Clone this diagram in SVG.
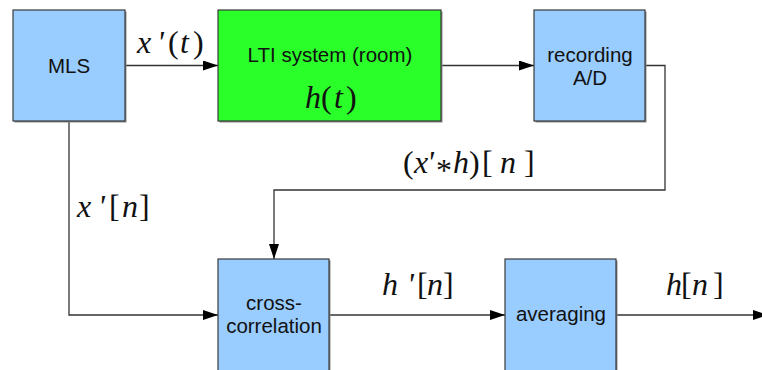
<svg xmlns="http://www.w3.org/2000/svg" width="762" height="370" viewBox="0 0 762 370">
  <defs>
    <marker id="arrow" markerUnits="userSpaceOnUse" markerWidth="16" markerHeight="11" refX="15" refY="5" orient="auto">
      <path d="M0,0 L15,5 L0,10 z" fill="#000"/>
    </marker>
  </defs>
  <style>
    .box { stroke: #3a3a3a; stroke-width: 1.2; }
    .shadow { fill: #8a8a8a; }
    .blue { fill: #99ccff; }
    .green { fill: #2aff2a; }
    .label { font-family: "Liberation Sans", Arial, sans-serif; font-size: 20.5px; fill: #111; text-anchor: middle; }
    .math { font-family: "Liberation Serif", "Times New Roman", serif; font-size: 32px; fill: #111; }
    .it { font-style: italic; }
    .wire { fill: none; stroke: #333; stroke-width: 1.3; }
  </style>
  <rect width="762" height="370" fill="#fff"/>

  <g id="connectors">
    <line class="wire" x1="125" y1="65.5" x2="218" y2="65.5" marker-end="url(#arrow)"/>
    <line class="wire" x1="442" y1="65.5" x2="534" y2="65.5" marker-end="url(#arrow)"/>
    <polyline class="wire" points="646,65.5 665,65.5 665,190 274,190 274,259" marker-end="url(#arrow)"/>
    <polyline class="wire" points="69,121 69,315 218,315" marker-end="url(#arrow)"/>
    <line class="wire" x1="330" y1="315" x2="505" y2="315" marker-end="url(#arrow)"/>
    <line class="wire" x1="617" y1="315" x2="768" y2="315" marker-end="url(#arrow)"/>
  </g>

  <g id="mls">
    <rect class="shadow" x="14.5" y="11.5" width="112" height="111"/>
    <rect class="box blue" x="13" y="10" width="112" height="111"/>
    <text class="label" x="69" y="73">MLS</text>
  </g>

  <g id="lti">
    <rect class="shadow" x="219.5" y="11.5" width="223" height="111"/>
    <rect class="box green" x="218" y="10" width="223" height="111"/>
    <text class="label" x="330" y="62">LTI system (room)</text>
    <text class="math" y="108"><tspan class="it" x="305">h</tspan><tspan x="321">(</tspan><tspan class="it" x="334">t</tspan><tspan x="346">)</tspan></text>
  </g>

  <g id="recording">
    <rect class="shadow" x="535.5" y="11.5" width="111" height="111"/>
    <rect class="box blue" x="534" y="10" width="111" height="111"/>
    <text class="label" x="590" y="62">recording</text>
    <text class="label" x="590" y="85">A/D</text>
  </g>

  <g id="crosscorrelation">
    <rect class="shadow" x="219.5" y="260.5" width="111" height="120"/>
    <rect class="box blue" x="218" y="259" width="111" height="120"/>
    <text class="label" x="274" y="310">cross-</text>
    <text class="label" x="274" y="333">correlation</text>
  </g>

  <g id="averaging">
    <rect class="shadow" x="506.5" y="260.5" width="111" height="120"/>
    <rect class="box blue" x="505" y="259" width="111" height="120"/>
    <text class="label" x="561" y="321">averaging</text>
  </g>

  <g id="signal-labels">
    <text class="math" y="53"><tspan class="it" x="137">x</tspan><tspan class="it" x="157">'</tspan><tspan x="168">(</tspan><tspan class="it" x="180">t</tspan><tspan x="193">)</tspan></text>
    <text class="math" y="173"><tspan x="403">(</tspan><tspan class="it" x="414">x</tspan><tspan class="it" x="427">'</tspan><tspan x="436" dy="8">*</tspan><tspan class="it" x="453" dy="-8">h</tspan><tspan x="469">)</tspan><tspan x="482">[</tspan><tspan class="it" x="500">n</tspan><tspan x="524">]</tspan></text>
    <text class="math" y="217"><tspan class="it" x="77">x</tspan><tspan class="it" x="98">'</tspan><tspan x="109">[</tspan><tspan class="it" x="122">n</tspan><tspan x="139">]</tspan></text>
    <text class="math" y="295"><tspan class="it" x="382">h</tspan><tspan class="it" x="407">'</tspan><tspan x="417">[</tspan><tspan class="it" x="427">n</tspan><tspan x="443">]</tspan></text>
    <text class="math" y="295"><tspan class="it" x="666">h</tspan><tspan x="681">[</tspan><tspan class="it" x="692">n</tspan><tspan x="713">]</tspan></text>
  </g>
</svg>
